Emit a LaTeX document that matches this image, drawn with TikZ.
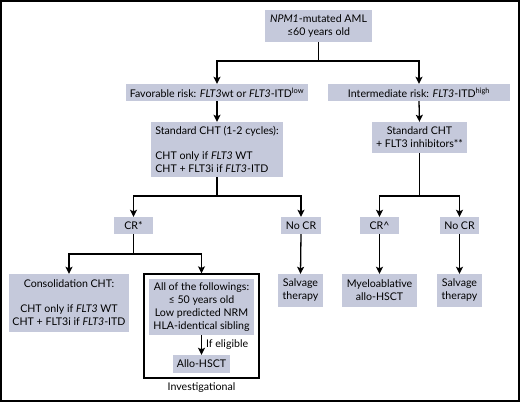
\documentclass[tikz,border=0pt]{standalone}
\usepackage{fontspec}
\setmainfont{Lato}
\usetikzlibrary{arrows.meta}
\definecolor{boxfill}{RGB}{197,201,219}
\begin{document}
\begin{tikzpicture}[x=1pt,y=-1pt,
  font=\fontsize{10.6}{13}\selectfont,
  box/.style={fill=boxfill, inner sep=0pt, align=center},
  ln/.style={line width=1.3pt},
  arr/.style={line width=1.3pt, -{Stealth[length=7pt,width=7pt,inset=1.5pt]}}]
\useasboundingbox (0,0) rectangle (520,402);
\draw[line width=2pt] (1,1) rectangle (519,401);
% boxes
\node[box, minimum width=107pt, minimum height=32pt] (top) at (318.5,26)
  {\textit{NPM1}-mutated AML\\≤60 years old};
\node[box, minimum width=182pt, minimum height=17pt] (fav) at (217,92.5)
  {Favorable risk: \textit{FLT3}wt or \textit{FLT3}-ITD\textsuperscript{low}};
\node[box, minimum width=182pt, minimum height=17pt] (int) at (419,92.5)
  {Intermediate risk: \textit{FLT3}-ITD\textsuperscript{high}};
\node[box, minimum width=132pt, minimum height=55pt, align=left] (std1) at (217,149.5)
  {Standard CHT (1-2 cycles):\\[12pt]CHT only if \textit{FLT3} WT\\CHT + FLT3i if \textit{FLT3}-ITD};
\node[box, minimum width=95pt, minimum height=31pt] (std2) at (419.5,137.5)
  {Standard CHT\\+ FLT3 inhibitors**};
\node[box, minimum width=39pt, minimum height=17pt] (cr1) at (133.5,225.5) {CR*};
\node[box, minimum width=40pt, minimum height=17pt] (nocr1) at (301,225.5) {No CR};
\node[box, minimum width=39pt, minimum height=17pt] (cr2) at (379.5,225.5) {CR\^{}};
\node[box, minimum width=39pt, minimum height=17pt] (nocr2) at (459.5,225.5) {No CR};
\node[box, minimum width=120pt, minimum height=58pt] (cons) at (69,303)
  {Consolidation CHT:\\[12pt]CHT only if \textit{FLT3} WT\\CHT + FLT3i if \textit{FLT3}-ITD};
\node[draw, line width=1.3pt, minimum width=115pt, minimum height=104pt, inner sep=0pt] (frame) at (201.5,326) {};
\node[box, minimum width=105pt, minimum height=56pt] (all) at (201.5,307)
  {All of the followings:\\≤ 50 years old\\Low predicted NRM\\HLA-identical sibling};
\node[box, minimum width=57pt, minimum height=18pt] (allo) at (201.5,364) {Allo-HSCT};
\node (inv) at (201.5,388) {Investigational};
\node[box, minimum width=45pt, minimum height=33pt] (salv1) at (300.5,290.5) {Salvage\\therapy};
\node[box, minimum width=75pt, minimum height=33pt] (myelo) at (379.5,290.5) {Myeloablative\\allo-HSCT};
\node[box, minimum width=45pt, minimum height=33pt] (salv2) at (459.5,290.5) {Salvage\\therapy};
% connectors
\coordinate (j1) at (318.5,61);
\draw[ln] (top.south) -- (j1);
\draw[arr] (j1) -| (fav.north);
\draw[arr] (j1) -| (int.north);
\draw[arr] (fav.south) -- (std1.north);
\draw[arr] (int.south) -- (std2.north);
\coordinate (j2) at (217,196);
\draw[ln] (std1.south) -- (j2);
\draw[arr] (j2) -| (cr1.north);
\draw[arr] (j2) -| (nocr1.north);
\coordinate (j3) at (419.5,196);
\draw[ln] (std2.south) -- (j3);
\draw[arr] (j3) -| (cr2.north);
\draw[arr] (j3) -| (nocr2.north);
\coordinate (j4) at (133.5,254);
\draw[ln] (cr1.south) -- (j4);
\draw[arr] (j4) -| (cons.north);
\draw[arr] (j4) -| (frame.north);
\draw[arr] (nocr1.south) -- (salv1.north);
\draw[arr] (cr2.south) -- (myelo.north);
\draw[arr] (nocr2.south) -- (salv2.north);
\draw[arr] (all.south) -- (allo.north) node[midway, right, inner sep=2pt, xshift=2pt] {If eligible};
\end{tikzpicture}
\end{document}
